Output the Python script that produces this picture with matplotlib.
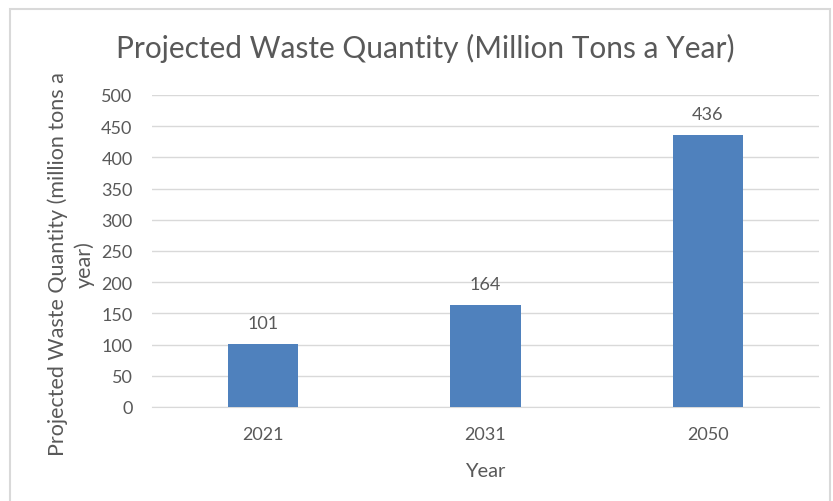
import matplotlib.pyplot as plt
import matplotlib.patches as patches

# 数据
years = ["2021", "2031", "2050"]
waste = [101, 164, 436]
y_ticks = [0, 50, 100, 150, 200, 250, 300, 350, 400, 450, 500]

TEXT_COLOR = "#595959"
BAR_COLOR = "#4F81BD"
GRID_COLOR = "#D9D9D9"

plt.rcParams['font.family'] = ['Lato', 'DejaVu Sans']

fig = plt.figure(figsize=(8.33, 5.02), dpi=100)

# 外框
fig.patches.append(patches.Rectangle((10 / 833, -0.05), 820 / 833, 1 - 10 / 502 + 0.05,
                                     transform=fig.transFigure, fill=False,
                                     edgecolor="#D9D9D9", linewidth=1.5))

ax = fig.add_axes([152 / 833, 1 - 408 / 502, 667 / 833, 312 / 502])

x = range(len(years))
bars = ax.bar(x, waste, width=0.315, color=BAR_COLOR, zorder=3)

for rect, v in zip(bars, waste):
    ax.annotate(str(v), (rect.get_x() + rect.get_width() / 2, v),
                xytext=(0, 9), textcoords="offset points",
                ha="center", va="bottom", fontsize=13, color=TEXT_COLOR)

ax.set_xlim(-0.5, len(years) - 0.5)
ax.set_ylim(0, 500)
ax.set_yticks(y_ticks)
ax.set_xticks(list(x))
ax.set_xticklabels(years)
ax.tick_params(axis="both", length=0, labelsize=13, colors=TEXT_COLOR)
ax.tick_params(axis="y", pad=14)
ax.tick_params(axis="x", pad=14)

ax.grid(axis="y", color=GRID_COLOR, linewidth=1, zorder=0)
for s in ["top", "right", "left"]:
    ax.spines[s].set_visible(False)
ax.spines["bottom"].set_color(GRID_COLOR)

ax.set_xlabel("Year", fontsize=14.5, color=TEXT_COLOR, labelpad=14)
ax.set_ylabel("Projected Waste Quantity (million tons a\nyear)", fontsize=15.5,
              color=TEXT_COLOR, linespacing=1.35)
ax.yaxis.set_label_coords(-0.086, 0.46)

fig.text(425 / 833, 1 - 48 / 502, "Projected Waste Quantity (Million Tons a Year)",
         ha="center", va="center", fontsize=21.5, color=TEXT_COLOR)

fig.savefig("out.png", dpi=100)
